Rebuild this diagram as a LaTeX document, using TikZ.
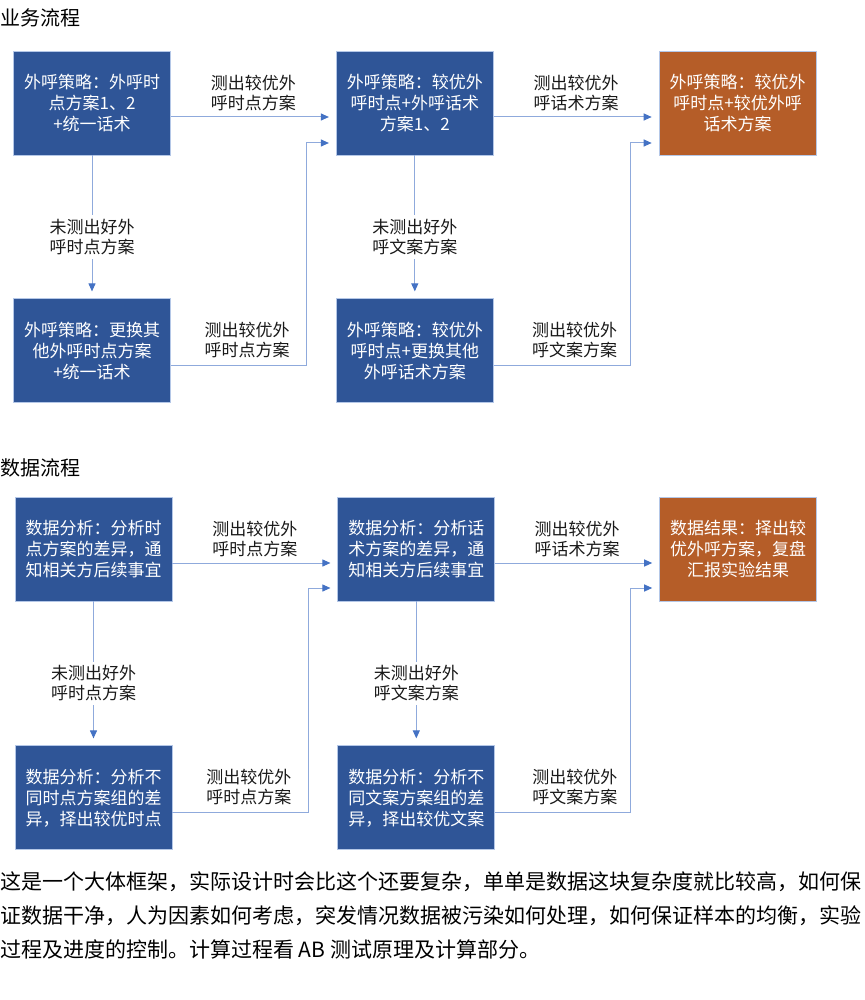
\documentclass[tikz,border=0pt]{standalone}
\usepackage{fontspec}
\setmainfont{Noto Sans CJK SC}
\usepackage{xcolor}
\usepackage{tikz}
\usetikzlibrary{arrows.meta,positioning}
\definecolor{boxblue}{HTML}{2F5597}
\definecolor{boxorange}{HTML}{B55D28}
\definecolor{edgeblue}{HTML}{B4C7E7}
\definecolor{lineblue}{HTML}{8FAADC}
\definecolor{tipblue}{HTML}{4472C4}

\begin{document}
\begin{tikzpicture}[
  box/.style={rectangle, draw=edgeblue, line width=0.8pt, fill=boxblue, text=white, minimum width=157pt, minimum height=104pt, inner sep=0pt, align=center, font=\fontsize{17pt}{21pt}\selectfont},
  res/.style={box, fill=boxorange},
  lbl/.style={align=center, inner sep=0pt, text=black!90, font=\fontsize{17pt}{20pt}\selectfont},
  vlbl/.style={lbl, fill=white, inner sep=4pt, pos=0.57},
  arr/.style={draw=lineblue, line width=1pt, -{Triangle[length=8pt,width=7pt,color=tipblue]}, shorten >=7pt},
  title/.style={anchor=base west, inner sep=0pt, font=\fontsize{20pt}{24pt}\selectfont}
]
\useasboundingbox (0,0) rectangle (864pt,-1000pt);

% business flow
\node[title] (t1) at (0pt,-26pt) {业务流程};
\node[box] (a1) at (92pt,-103pt) {外呼策略：外呼时\\点方案1、2\\+统一话术};
\node[box, right=165pt of a1] (b1) {外呼策略：较优外\\呼时点+外呼话术\\方案1、2};
\node[res, right=165pt of b1] (c1) {外呼策略：较优外\\呼时点+较优外呼\\话术方案};
\node[box, below=143pt of a1] (d1) {外呼策略：更换其\\他外呼时点方案\\+统一话术};
\node[box, below=143pt of b1] (e1) {外呼策略：较优外\\呼时点+更换其他\\外呼话术方案};
\draw[arr] ([yshift=-14pt]a1.east) -- ([yshift=-14pt]a1.east -| b1.west) node[lbl, midway, above=6pt] {测出较优外\\呼时点方案};
\draw[arr] ([yshift=-14pt]b1.east) -- ([yshift=-14pt]b1.east -| c1.west) node[lbl, midway, above=6pt] {测出较优外\\呼话术方案};
\draw[arr] (a1) -- (d1) node[vlbl] {未测出好外\\呼时点方案};
\draw[arr] (b1) -- (e1) node[vlbl] {未测出好外\\呼文案方案};
\draw[arr] ([yshift=-15pt]d1.east) -- ++(136pt,0) node[lbl, pos=0.56, above=7pt] {测出较优外\\呼时点方案} |- ([yshift=-40pt]b1.west);
\draw[arr] ([yshift=-15pt]e1.east) -- ++(137pt,0) node[lbl, pos=0.59, above=7pt] {测出较优外\\呼文案方案} |- ([yshift=-40pt]c1.west);

% data flow
\node[title] (t2) at (0pt,-475pt) {数据流程};
\node[box] (a2) at (93.5pt,-549pt) {数据分析：分析时\\点方案的差异，通\\知相关方后续事宜};
\node[box, right=165pt of a2] (b2) {数据分析：分析话\\术方案的差异，通\\知相关方后续事宜};
\node[res, right=164pt of b2] (c2) {数据结果：择出较\\优外呼方案，复盘\\汇报实验结果};
\node[box, below=144pt of a2] (d2) {数据分析：分析不\\同时点方案组的差\\异，择出较优时点};
\node[box, below=144pt of b2] (e2) {数据分析：分析不\\同文案方案组的差\\异，择出较优文案};
\draw[arr] ([yshift=-14pt]a2.east) -- ([yshift=-14pt]a2.east -| b2.west) node[lbl, midway, above=6pt] {测出较优外\\呼时点方案};
\draw[arr] ([yshift=-14pt]b2.east) -- ([yshift=-14pt]b2.east -| c2.west) node[lbl, midway, above=6pt] {测出较优外\\呼话术方案};
\draw[arr] (a2) -- (d2) node[vlbl] {未测出好外\\呼时点方案};
\draw[arr] (b2) -- (e2) node[vlbl] {未测出好外\\呼文案方案};
\draw[arr] ([yshift=-15pt]d2.east) -- ++(136.5pt,0) node[lbl, pos=0.56, above=7pt] {测出较优外\\呼时点方案} |- ([yshift=-39pt]b2.west);
\draw[arr] ([yshift=-15pt]e2.east) -- ++(135pt,0) node[lbl, pos=0.59, above=7pt] {测出较优外\\呼文案方案} |- ([yshift=-39pt]c2.west);

% note below
\node[anchor=north west, align=left, inner sep=0pt, font=\fontsize{21pt}{34pt}\selectfont] (note) at (0pt,-872pt) {这是一个大体框架，实际设计时会比这个还要复杂，单单是数据这块复杂度就比较高，如何保\\证数据干净，人为因素如何考虑，突发情况数据被污染如何处理，如何保证样本的均衡，实验\\过程及进度的控制。计算过程看 AB 测试原理及计算部分。};
\end{tikzpicture}
\end{document}
